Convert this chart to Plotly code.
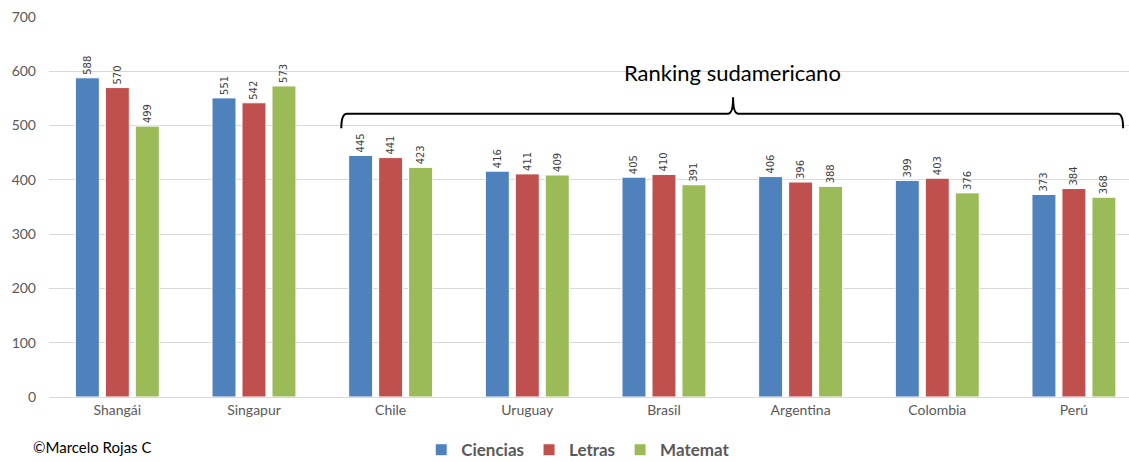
import plotly.graph_objects as go

categories = ["Shangái", "Singapur", "Chile", "Uruguay", "Brasil", "Argentina", "Colombia", "Perú"]
ciencias = [588, 551, 445, 416, 405, 406, 399, 373]
letras = [570, 542, 441, 411, 410, 396, 403, 384]
matemat = [499, 573, 423, 409, 391, 388, 376, 368]

series = [("Ciencias", ciencias, "#4f81bd"), ("Letras", letras, "#c0504d"), ("Matemat", matemat, "#9bbb59")]
xpos = list(range(len(categories)))

FONT = "Lato, Roboto, sans-serif"

fig = go.Figure()
for name, vals, col in series:
    fig.add_trace(go.Bar(
        x=xpos, y=vals, name=name,
        marker=dict(color=col, line=dict(color="white", width=1)),
        text=[str(v) for v in vals], textposition="outside", textangle=-90,
        textfont=dict(family="DejaVu Sans", size=10, color="#404040"),
        cliponaxis=False,
    ))

brace = ("M 1.639,495 Q 1.639,522 1.68,522 L 4.47,522 Q 4.506,522 4.506,552 "
         "Q 4.506,522 4.542,522 L 7.32,522 Q 7.36,522 7.36,495")

fig.update_layout(
    width=1129, height=462,
    margin=dict(l=48.6, r=0, t=17, b=65, autoexpand=False),
    paper_bgcolor="white", plot_bgcolor="white",
    barmode="group", bargap=0.342, bargroupgap=0.2,
    xaxis=dict(range=[-0.5, 7.403], tickvals=xpos, ticktext=categories, automargin=False,
               showgrid=False, showline=True, linecolor="#d9d9d9", linewidth=1,
               ticks="", tickfont=dict(family=FONT, size=14, color="#595959")),
    yaxis=dict(range=[0, 700], dtick=100, showgrid=True, gridcolor="#d9d9d9", automargin=False,
               zeroline=False, ticks="", ticklabelstandoff=12,
               tickfont=dict(family=FONT, size=14, color="#595959")),
    legend=dict(orientation="h", x=0.49, xanchor="center", y=-0.14, yanchor="middle",
                font=dict(family=FONT, size=17, color="#595959", weight="bold"),
                itemwidth=30, tracegroupgap=0),
    shapes=[dict(type="path", path=brace, xref="x", yref="y",
                 line=dict(color="black", width=2))],
    annotations=[
        dict(text="Ranking sudamericano", x=4.5, y=598, xref="x", yref="y",
             showarrow=False, font=dict(family=FONT, size=22, color="black")),
        dict(text="©Marcelo Rojas C", x=-0.017, y=-0.132, xref="paper", yref="paper",
             xanchor="left", yanchor="middle", showarrow=False,
             font=dict(family=FONT, size=15, color="black")),
    ],
)

fig.write_html("out.html", config={"displayModeBar": False},
               post_script="document.body.style.margin='0';document.body.style.overflow='hidden';")
